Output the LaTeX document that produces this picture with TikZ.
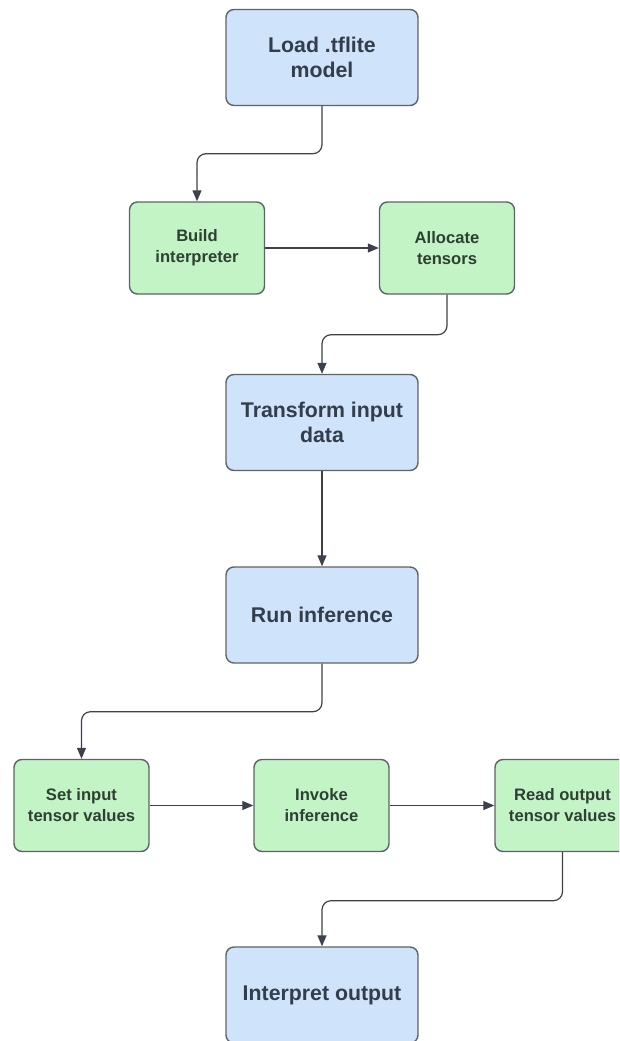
\documentclass[tikz,border=0pt]{standalone}
\usepackage{fontspec}
\setmainfont{Liberation Sans}
\usetikzlibrary{arrows.meta}
\definecolor{bluefill}{HTML}{CFE3FA}
\definecolor{greenfill}{HTML}{C2F4C6}
\definecolor{boxedge}{HTML}{5E6368}
\definecolor{bluetext}{HTML}{333E4B}
\definecolor{greentext}{HTML}{2E3F33}
\definecolor{linkcol}{HTML}{3C414B}
\begin{document}
\begin{tikzpicture}[x=1pt,y=1pt,
  box/.style={draw=boxedge, line width=1.4pt, rounded corners=8pt, inner sep=0pt, align=center, font=\bfseries},
  bigbox/.style={box, fill=bluefill, text=bluetext, minimum width=192pt, minimum height=96pt,
    font=\bfseries\fontsize{21.3}{25.5}\selectfont},
  smallbox/.style={box, fill=greenfill, text=greentext, minimum width=135pt, minimum height=92pt,
    font=\bfseries\fontsize{16.6}{21}\selectfont},
  link/.style={draw=linkcol, line width=1.2pt, rounded corners=9pt,
    -{Triangle[length=11pt,width=9pt]}}]
\clip (0,0) rectangle (619,-1041);
\fill[white] (0,0) rectangle (619,-1041);

\node[bigbox]   (load)      at (322,-57.5)  {Load .tflite\\model};
\node[smallbox] (build)     at (197,-248)   {Build\\interpreter};
\node[smallbox] (alloc)     at (447,-248)   {Allocate\\tensors};
\node[bigbox]   (transform) at (322,-422.5) {Transform input\\data};
\node[bigbox]   (run)       at (322,-615)   {Run inference};
\node[smallbox] (setin)     at (81.5,-805.5)  {Set input\\tensor values};
\node[smallbox] (invoke)    at (321.5,-805.5) {Invoke\\inference};
\node[smallbox] (readout)   at (562.5,-805.5) {Read output\\tensor values};
\node[bigbox]   (interp)    at (322,-995)   {Interpret output};

\draw[link] (load.south) -- ++(0,-47.5) -| (build.north);
\draw[link] (build.east) -- (alloc.west);
\draw[link] (alloc.south) -- ++(0,-40) -| (transform.north);
\draw[link] (transform.south) -- (run.north);
\draw[link] (run.south) -- ++(0,-48) -| (setin.north);
\draw[link] (setin.east) -- (invoke.west);
\draw[link] (invoke.east) -- (readout.west);
\draw[link] (readout.south) -- ++(0,-48.5) -| (interp.north);
\end{tikzpicture}
\end{document}
